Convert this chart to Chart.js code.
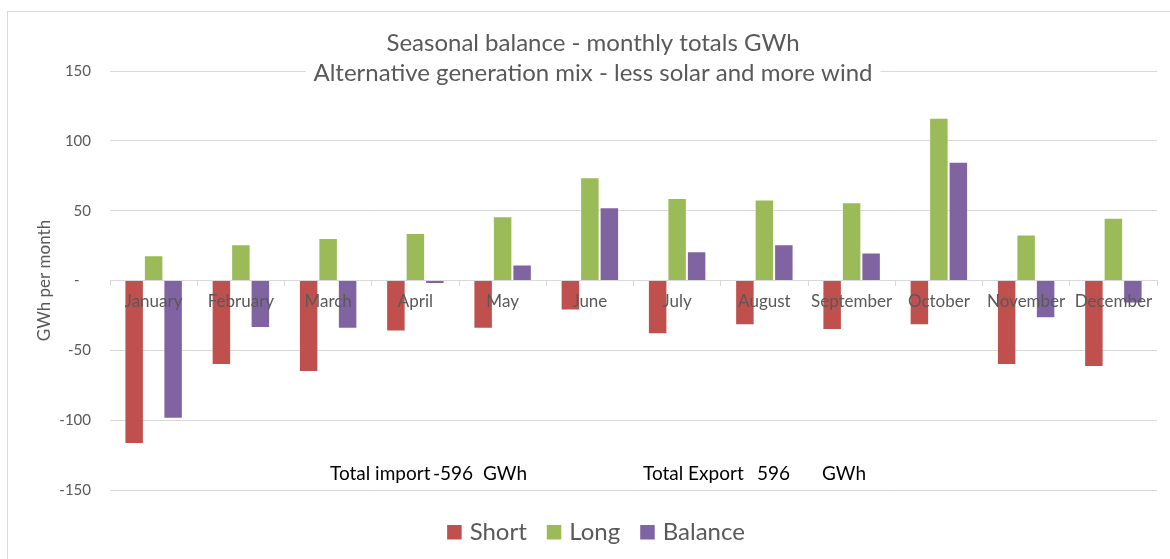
<!DOCTYPE html>
<html>
<head>
<meta charset="utf-8">
<script src="https://cdn.jsdelivr.net/npm/chart.js@4.4.1/dist/chart.umd.min.js"></script>
<style>
  html, body { margin: 0; padding: 0; background: #ffffff; }
  #wrap { width: 1170px; height: 559px; position: relative; }
</style>
</head>
<body>
<div id="wrap"><canvas id="chart" width="1170" height="559"></canvas></div>
<script>
// Monthly surplus / deficit (GWh)
const months = ['January', 'February', 'March', 'April', 'May', 'June',
                'July', 'August', 'September', 'October', 'November', 'December'];
const shortGWh   = [-117, -60.5, -65.5, -36.5, -34.5, -21.5, -38.5, -32, -35.5, -32, -60.5, -62];
const longGWh    = [18, 26, 30.5, 34, 46, 74, 59, 58, 56, 116.5, 33, 45];
const balanceGWh = [-99, -34, -34.5, -2.5, 11.5, 52.5, 21, 26, 20, 85, -27, -16.5];

const yTickValues = [150, 100, 50, 0, -50, -100, -150];
const seriesNames = ['Short', 'Long', 'Balance'];
const seriesColors = ['#C0504D', '#9BBB59', '#8064A2'];
const titleLines = ['Seasonal balance - monthly totals GWh',
                    'Alternative generation mix - less solar and more wind'];

const sum = arr => arr.reduce((a, b) => a + b, 0);
const totalImport = Math.round(sum(shortGWh));
const totalExport = Math.round(sum(longGWh));

const FONT = 'Lato, "Open Sans", sans-serif';
const GREY_TEXT = '#595959';
const GRID = '#d9d9d9';

// Frame, two-line title with white backing, totals text boxes and legend
const decorations = {
  id: 'decorations',
  beforeDraw(chart) {
    const ctx = chart.ctx;
    ctx.save();
    ctx.fillStyle = '#ffffff';
    ctx.fillRect(0, 0, chart.width, chart.height);
    ctx.strokeStyle = GRID;
    ctx.lineWidth = 1;
    ctx.strokeRect(7.5, 11.5, chart.width + 20, chart.height + 20);
    ctx.restore();
  },
  afterDraw(chart) {
    const ctx = chart.ctx;
    ctx.save();

    // title
    const cx = 593;
    ctx.font = '24px ' + FONT;
    ctx.textAlign = 'center';
    ctx.textBaseline = 'alphabetic';
    const baselines = [51, 81];
    titleLines.forEach((line, i) => {
      const w = ctx.measureText(line).width;
      ctx.fillStyle = '#ffffff';
      ctx.fillRect(cx - w / 2 - 8, baselines[i] - 22, w + 16, 29);
    });
    ctx.fillStyle = GREY_TEXT;
    titleLines.forEach((line, i) => ctx.fillText(line, cx, baselines[i]));

    // totals
    ctx.font = '19px ' + FONT;
    ctx.fillStyle = '#000000';
    ctx.textAlign = 'left';
    ctx.fillText('Total import', 330, 480);
    ctx.fillText(String(totalImport), 433, 480);
    ctx.fillText('GWh', 483, 480);
    ctx.fillText('Total Export', 643, 480);
    ctx.fillText(String(totalExport), 757, 480);
    ctx.fillText('GWh', 822, 480);

    // legend
    ctx.font = '24px ' + FONT;
    ctx.textBaseline = 'middle';
    const box = 14.5, boxGap = 8, itemGap = 20;
    const widths = chart.data.datasets.map(d => box + boxGap + ctx.measureText(d.label).width);
    const total = sum(widths) + itemGap * (widths.length - 1);
    let x = 596 - total / 2;
    chart.data.datasets.forEach((d, i) => {
      ctx.fillStyle = d.backgroundColor;
      ctx.fillRect(x, 525, box, box);
      ctx.fillStyle = GREY_TEXT;
      ctx.fillText(d.label, x + box + boxGap, 532.5);
      x += widths[i] + itemGap;
    });
    ctx.restore();
  }
};

new Chart(document.getElementById('chart'), {
  type: 'bar',
  data: {
    labels: months,
    datasets: [shortGWh, longGWh, balanceGWh].map((values, i) => ({
      label: seriesNames[i],
      data: values,
      backgroundColor: seriesColors[i],
      borderColor: 'rgba(255,255,255,0.35)',
      borderWidth: 1,
      barPercentage: 1,
      categoryPercentage: 0.67
    }))
  },
  options: {
    responsive: false,
    devicePixelRatio: 1,
    animation: false,
    layout: { padding: { top: 71, right: 13, bottom: 69, left: 0 } },
    plugins: {
      legend: { display: false },
      title: { display: false },
      tooltip: { enabled: false }
    },
    scales: {
      x: {
        type: 'category',
        position: { y: 0 },
        offset: true,
        grid: {
          display: true,
          drawOnChartArea: false,
          drawTicks: true,
          tickLength: 5,
          offset: true,
          color: GRID
        },
        border: { display: true, color: GRID, width: 1 },
        ticks: {
          z: 1,
          color: GREY_TEXT,
          font: { family: FONT, size: 17 },
          padding: 6,
          maxRotation: 0,
          autoSkip: false
        }
      },
      y: {
        min: -150,
        max: 150,
        afterBuildTicks(scale) {
          scale.ticks = yTickValues.map(v => ({ value: v }));
        },
        afterFit(scale) { scale.width = 110; },
        grid: { color: GRID, lineWidth: 1, drawTicks: false },
        border: { display: false },
        ticks: {
          color: GREY_TEXT,
          font: { family: FONT, size: 15 },
          padding: 19,
          callback: v => (v === 0 ? '-   ' : String(v))
        },
        title: {
          display: true,
          text: 'GWh per month',
          color: GREY_TEXT,
          font: { family: FONT, size: 17 },
          padding: { top: 34, bottom: 0 }
        }
      }
    }
  },
  plugins: [decorations]
});
</script>
</body>
</html>
